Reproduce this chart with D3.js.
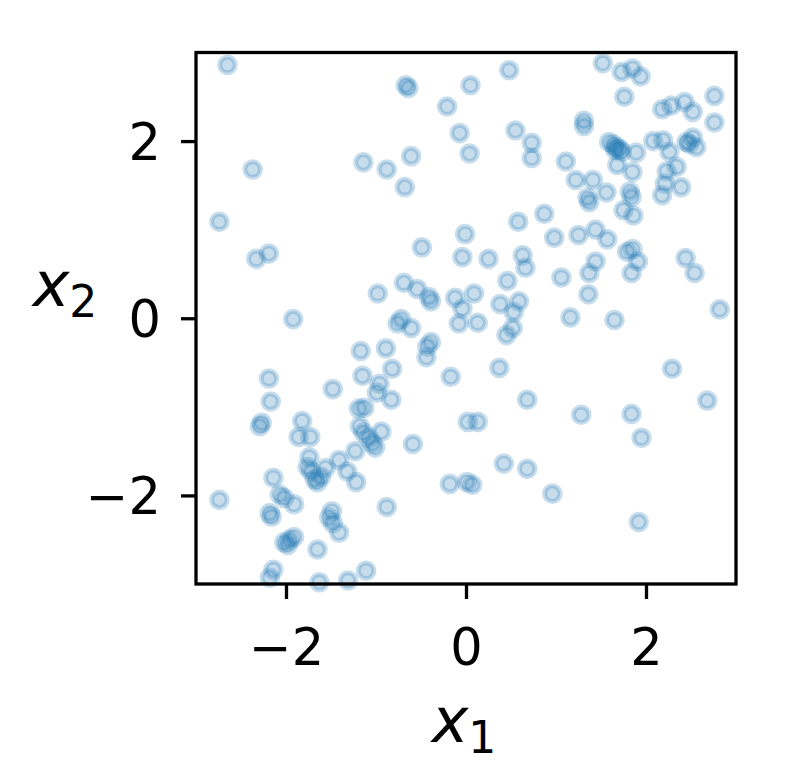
<!DOCTYPE html>
<html>
<head>
<meta charset="utf-8">
<script src="https://cdn.jsdelivr.net/npm/d3@7"></script>
<style>
  html, body { margin: 0; padding: 0; background: #fff; }
  svg { display: block; }
  text { font-family: "DejaVu Sans", sans-serif; fill: #000; }
</style>
</head>
<body>
<svg id="chart" width="789" height="782"></svg>
<script>
// ---- data ----
const x1 = [
  -2.65, -0.67, -0.64, 0.05, 0.48, 1.52, 1.73, 1.85, 1.94, -0.21,
  -0.07, 0.04, 0.55, 0.73, 0.73, -0.61, -0.88, -0.68, -1.14, -2.37,
  1.76, 2.18, 2.28, 2.43, 2.52, 2.76, 2.76, 1.31, 1.31, -2.74,
  0.58, 0.87, -0.01, 1.59, 1.64, 1.67, 1.71, 1.73, 1.66, 1.89,
  1.68, 1.85, 2.08, 2.19, 2.26, 2.45, 2.52, 2.56, 2.48, 2.34,
  2.23, 2.21, 2.18, 2.39, 1.11, 1.22, 1.41, 1.35, 1.37, 1.56,
  1.82, 1.84, 1.75, 1.86, 0.98, 1.25, 1.44, 1.57, 1.79, 1.85,
  1.91, 1.84, 1.44, 1.37, 1.06, 1.36, 1.16, 1.65, 2.44, 2.54,
  2.82, 2.29, 2.68, 1.28, 1.84, 1.95, 0.96, 1.92,
  -0.49, -0.04, 0.25, 0.63, 0.66, 0.46, -0.69, -0.54, -0.41, -0.39,
  -0.98, -0.12, 0.09, -0.04, -0.08, 0.13, 0.38, 0.59, 0.53, 0.52,
  0.45, -0.72, -0.76, -0.61, -0.39, -0.43, -0.44, -0.89, -0.82, -0.17,
  0.37, -0.96, -0.99, -0.83, 0.68,
  -2.33, -2.19, -1.92, -1.17, -2.19, -2.17, -1.48, -1.15, -1.19, -1.13,
  -1.18, -1.14, -1.08, -1.04, -1.01, -0.94,
  -1.82, -1.86, -1.73, -1.74, -1.76, -1.72, -1.68, -1.61, -1.56, -1.65,
  -1.41, -1.32, -1.22, -1.23, -2.14, -2.74, -2.07, -2.02, -1.91, -2.18,
  -2.16, -1.49, -1.52, -1.48, -1.41, -1.96, -2.02, -1.98, -1.91, -1.65,
  -2.14, -2.18, -1.11, -1.63, -1.31, -2.27, -2.29,
  0.02, 0.13, -0.59, -0.18, 0.01, 0.07, 0.42, 0.68, -0.88
];
const x2 = [
  2.86, 2.63, 2.60, 2.63, 2.80, 2.88, 2.78, 2.82, 2.73, 2.39,
  2.09, 1.86, 2.12, 1.98, 1.81, 1.83, 1.68, 1.48, 1.76, 1.68,
  2.50, 2.36, 2.40, 2.44, 2.33, 2.51, 2.21, 2.23, 2.17, 1.09,
  1.09, 1.18, 0.95, 1.99, 1.96, 1.93, 1.91, 1.88, 1.90, 1.87,
  1.73, 1.65, 2.00, 2.01, 1.88, 1.99, 2.04, 1.93, 1.97, 1.71,
  1.66, 1.52, 1.39, 1.48, 1.77, 1.56, 1.56, 1.36, 1.31, 1.42,
  1.43, 1.37, 1.22, 1.16, 0.91, 0.94, 1.00, 0.89, 0.75, 0.78,
  0.64, 0.51, 0.64, 0.51, 0.46, 0.27, 0.01, -0.02, 0.68, 0.51,
  0.10, -0.57, -0.93, -1.09, -1.08, -1.35, -1.98, -2.30,
  0.80, 0.69, 0.67, 0.71, 0.57, 0.42, 0.40, 0.33, 0.24, 0.19,
  0.28, 0.23, 0.28, 0.11, -0.06, -0.05, 0.16, 0.19, 0.07, -0.11,
  -0.19, -0.01, -0.06, -0.11, -0.27, -0.32, -0.44, -0.34, -0.57, -0.66,
  -0.56, -0.74, -0.84, -0.92, -0.92,
  0.67, 0.73, -0.01, -0.37, -0.68, -0.94, -0.80, -0.65, -1.02, -1.01,
  -1.22, -1.29, -1.35, -1.41, -1.46, -1.28,
  -1.16, -1.34, -1.34, -1.57, -1.68, -1.73, -1.82, -1.79, -1.69, -1.85,
  -1.60, -1.73, -1.85, -1.50, -1.80, -2.05, -1.99, -2.03, -2.10, -2.20,
  -2.24, -2.18, -2.25, -2.31, -2.42, -2.50, -2.53, -2.56, -2.47, -2.61,
  -2.84, -2.93, -2.85, -2.98, -2.96, -1.18, -1.22,
  -1.17, -1.17, -1.42, -1.87, -1.85, -1.88, -1.64, -1.70, -2.13
];
const xTicks = [-2, 0, 2];
const yTicks = [-2, 0, 2];
const xLabel = "x";
const xSub = "1";
const yLabel = "x";
const ySub = "2";

// ---- layout ----
const padL = 196, padR = 736, padT = 52.5, padB = 584;
const svg = d3.select("#chart");
const x = d3.scaleLinear().domain([-3, 3]).range([padL, padR]);
const y = d3.scaleLinear().domain([-3, 3]).range([padB, padT]);
const fmt = d => (d < 0 ? "\u2212" : "") + Math.abs(d);
const tickFont = 51;

// points
const pts = x1.map((v, i) => ({ a: v, b: x2[i] }));
const gp = svg.append("g");
gp.selectAll("circle").data(pts).join("circle")
  .attr("cx", d => x(d.a))
  .attr("cy", d => y(d.b))
  .attr("r", 7.8)
  .attr("fill", "#1f77b4").attr("fill-opacity", 0.25)
  .attr("stroke", "#1f77b4").attr("stroke-opacity", 0.25)
  .attr("stroke-width", 5);

// axes
const ax = svg.append("g").attr("transform", `translate(0,${padB})`)
  .call(d3.axisBottom(x).tickValues(xTicks).tickFormat(fmt).tickSize(15));
ax.select(".domain").remove();
ax.selectAll(".tick line").attr("stroke", "#000").attr("stroke-width", 3.3);
ax.selectAll(".tick text").attr("y", 81).attr("dy", 0)
  .style("font-size", tickFont + "px").style("font-family", "DejaVu Sans");

const ay = svg.append("g").attr("transform", `translate(${padL},0)`)
  .call(d3.axisLeft(y).tickValues(yTicks).tickFormat(fmt).tickSize(15));
ay.select(".domain").remove();
ay.selectAll(".tick line").attr("stroke", "#000").attr("stroke-width", 3.3);
ay.selectAll(".tick text").attr("x", -35).attr("dy", "0.36em")
  .style("font-size", tickFont + "px").style("font-family", "DejaVu Sans");

// frame (spines)
svg.append("rect")
  .attr("x", padL).attr("y", padT)
  .attr("width", padR - padL).attr("height", padB - padT)
  .attr("fill", "none").attr("stroke", "#000").attr("stroke-width", 3.3);

// axis labels
const xl = svg.append("text").attr("x", 464).attr("y", 742)
  .attr("text-anchor", "middle")
  .style("font-size", "62px").style("font-style", "italic");
xl.append("tspan").text(xLabel);
xl.append("tspan").attr("dy", 11).style("font-style", "normal")
  .style("font-size", "44px").text(xSub);

const yl = svg.append("text").attr("x", 65).attr("y", 306)
  .attr("text-anchor", "middle")
  .style("font-size", "62px").style("font-style", "italic");
yl.append("tspan").text(yLabel);
yl.append("tspan").attr("dy", 11).style("font-style", "normal")
  .style("font-size", "44px").text(ySub);
</script>
</body>
</html>
